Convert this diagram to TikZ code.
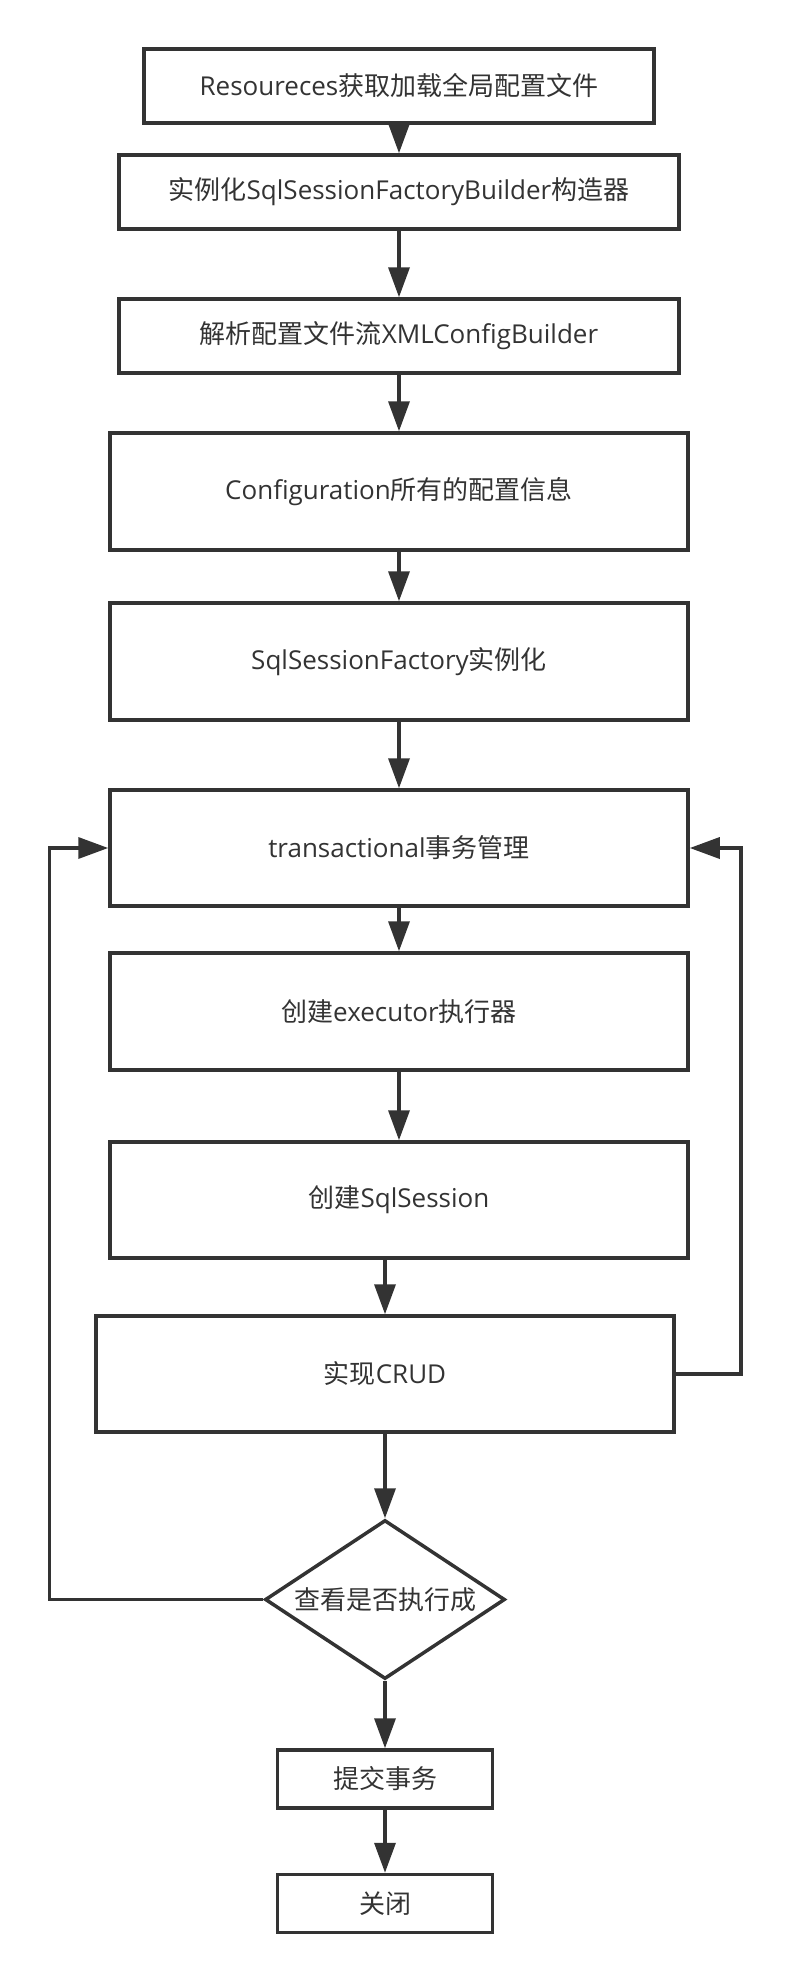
\documentclass[tikz,border=0pt]{standalone}
\usepackage{fontspec}
\setmainfont{Open Sans}
\newfontfamily\cjk{Noto Sans CJK SC}
\usetikzlibrary{arrows.meta,shapes.geometric}
\definecolor{ink}{HTML}{333333}
\tikzset{
  stepbox/.style={draw=ink, line width=3.5pt, rectangle, inner sep=0pt,
    text=ink, font=\fontsize{26}{30}\selectfont, minimum height=#1},
  stepbox/.default=74pt,
  decide/.style={draw=ink, line width=3.5pt, diamond, aspect=1.51, inner sep=0pt,
    text=ink, font=\fontsize{26}{30}\selectfont, minimum width=240pt, minimum height=159pt},
  flow/.style={draw=ink, line width=3.5pt, -{Triangle[length=30pt,width=21pt]}},
}
\begin{document}
\begin{tikzpicture}[x=1pt,y=-1pt]
\useasboundingbox (0,0) rectangle (788,1980);
\node[stepbox, minimum width=510pt] (b1) at (399,86) {Resoureces{\cjk 获取加载全局配置文件}};
\node[stepbox, minimum width=560pt] (b2) at (399,192) {{\cjk 实例化}SqlSessionFactoryBuilder{\cjk 构造器}};
\node[stepbox, minimum width=560pt] (b3) at (399,336) {{\cjk 解析配置文件流}XMLConfigBuilder};
\node[stepbox=117pt, minimum width=578pt] (b4) at (399,491.5) {Configuration{\cjk 所有的配置信息}};
\node[stepbox=117pt, minimum width=578pt] (b5) at (399,661.5) {SqlSessionFactory{\cjk 实例化}};
\node[stepbox=116pt, minimum width=578pt] (b6) at (399,848) {transactional{\cjk 事务管理}};
\node[stepbox=117pt, minimum width=578pt] (b7) at (399,1011.5) {{\cjk 创建}executor{\cjk 执行器}};
\node[stepbox=116pt, minimum width=578pt] (b8) at (399,1200) {{\cjk 创建}SqlSession};
\node[stepbox=116pt, minimum width=578pt] (b9) at (385,1374) {{\cjk 实现}CRUD};
\node[decide] (d) at (385,1599.5) {\cjk 查看是否执行成};
\node[stepbox=58pt, minimum width=215pt] (b10) at (385,1779) {\cjk 提交事务};
\node[stepbox=58pt, minimum width=215pt] (b11) at (385,1903.5) {\cjk 关闭};
\coordinate (lx) at (49.5,0);
\coordinate (rx) at (741,0);
\draw[flow] (b1) -- (b2);
\draw[flow] (b2) -- (b3);
\draw[flow] (b3) -- (b4);
\draw[flow] (b4) -- (b5);
\draw[flow] (b5) -- (b6);
\draw[flow] (b6) -- (b7);
\draw[flow] (b7) -- (b8);
\draw[flow] (b8.south -| b9.north) -- (b9.north);
\draw[flow] (b9) -- (d);
\draw[flow] (d) -- (b10);
\draw[flow] (b10) -- (b11);
\draw[flow] (d.west) -- (d.west -| lx) -- (b6.west -| lx) -- (b6.west);
\draw[flow] (b9.east) -- (b9.east -| rx) -- (b6.east -| rx) -- (b6.east);
\end{tikzpicture}
\end{document}
